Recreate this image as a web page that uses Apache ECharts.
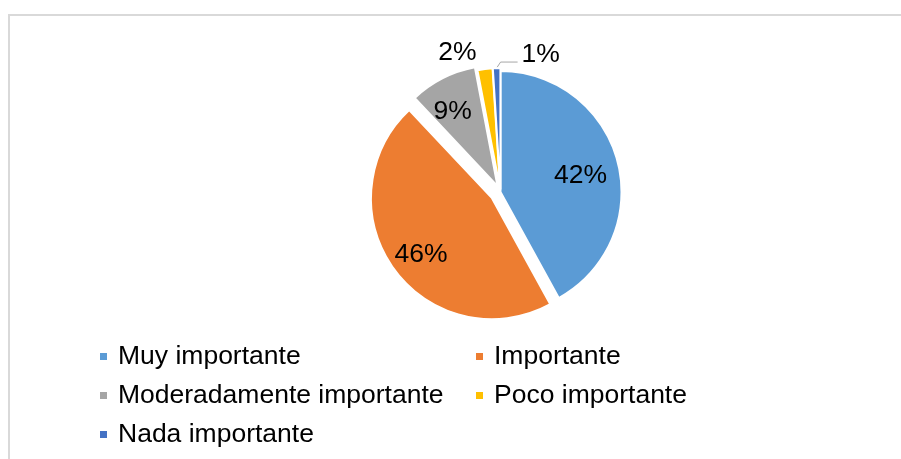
<!DOCTYPE html>
<html><head><meta charset="utf-8">
<script src="https://cdn.jsdelivr.net/npm/echarts@6/dist/echarts.min.js"></script>
<style>
html,body{margin:0;padding:0;background:#fff;overflow:hidden;}
#frame{position:absolute;left:8px;top:14px;width:1000px;height:600px;border-left:2px solid #d9d9d9;border-top:2px solid #d9d9d9;}
#chart{position:absolute;left:0;top:0;width:901px;height:459px;}
</style></head><body>
<div id="frame"></div>
<div id="chart"></div>
<script>
// ---- data ----
const categories = ['Muy importante', 'Importante', 'Moderadamente importante', 'Poco importante', 'Nada importante'];
const values = [42, 46, 9, 2, 1];

// ---- styles ----
const colors = ['#5B9BD5', '#ED7D31', '#A5A5A5', '#FFC000', '#4472C4'];
const explode = [0, 10.5, 6.5, 3, 3];
const labelNudge = [[-5, 5], [0, 5], [-5, 4], [-27.5, -16], [21, -6]];
const FONT = 'Liberation Sans, Arial, sans-serif';
const FS = 26.5;
const CX = 500.5, CY = 192, R = 121;

const total = values.reduce((a, b) => a + b, 0);
const mids = [];
let acc = 0;
values.forEach(v => { mids.push((acc + v / 2) / total * 2 * Math.PI); acc += v; });
const last = values.length - 1;

const series = values.map((v, k) => {
  const ux = Math.sin(mids[k]), uy = -Math.cos(mids[k]);
  const cx = CX + explode[k] * ux, cy = CY + explode[k] * uy;
  const small = values[k] / total < 0.05;
  const labelCfg = {
    show: true, formatter: '{d}%', fontFamily: FONT, fontSize: FS, color: '#000',
    position: small ? 'outside' : 'inside'
  };
  if (k === last) {
    labelCfg.formatter = '{p|{d}%}\n{p| }';
    labelCfg.rich = { p: { fontFamily: FONT, fontSize: FS, color: '#000', lineHeight: 14, padding: [0, 0, 0, 4] } };
  }
  return {
    type: 'pie', silent: true, animation: false, startAngle: 90, clockwise: true,
    center: [cx, cy], radius: R, avoidLabelOverlap: false,
    label: labelCfg,
    labelLine: { show: k === last, length: 8, length2: 17, lineStyle: { color: '#a6a6a6', width: 1 } },
    labelLayout: function (p) {
      if (p.dataIndex !== k) return {};
      const n = labelNudge[k];
      if (!small) return { dx: 0.2 * R * ux + n[0], dy: 0.2 * R * uy + n[1] };
      const ax = cx + R * ux, ay = cy + R * uy;
      if (k === last) return { x: ax + n[0], y: ay + n[1], align: 'left', verticalAlign: 'middle' };
      return { x: ax + n[0], y: ay + n[1], align: 'center', verticalAlign: 'middle' };
    },
    data: values.map((vv, i) => i === k
      ? { name: categories[i], value: vv, itemStyle: { color: colors[i], borderColor: '#fff', borderWidth: 2 } }
      : { name: '', value: vv, itemStyle: { color: 'rgba(0,0,0,0)', borderWidth: 0 }, label: { show: false }, labelLine: { show: false } })
  };
});

const chart = echarts.init(document.getElementById('chart'), null, { renderer: 'canvas' });
chart.setOption({
  animation: false,
  legend: {
    data: categories.map((c, i) => ({ name: c, itemStyle: { color: colors[i], borderWidth: 0 } })),
    left: 100, top: 337, width: 760, padding: 0, orient: 'horizontal',
    itemGap: 0, itemWidth: 7, itemHeight: 7, icon: 'rect', selectedMode: false,
    itemStyle: { borderWidth: 0 },
    textStyle: { fontFamily: FONT, fontSize: FS, color: '#000', width: 358, padding: [0, 0, 0, 6], lineHeight: 39, overflow: 'none' }
  },
  series: series
});
</script>
</body></html>
